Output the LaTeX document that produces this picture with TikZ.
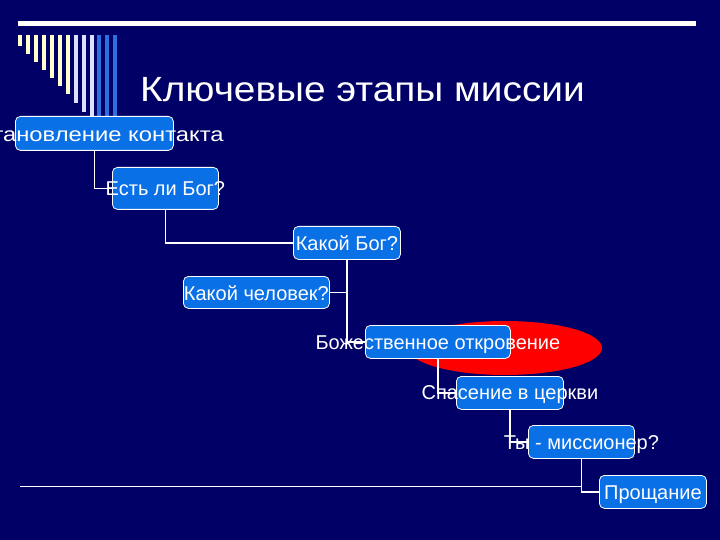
\documentclass[tikz,border=0pt]{standalone}
\usepackage{fontspec}
\setmainfont{Liberation Sans}
\definecolor{bgnavy}{HTML}{000066}
\definecolor{nodeblue}{HTML}{0A70E6}
\definecolor{barcream}{HTML}{FFFFCC}
\definecolor{barlight}{HTML}{DDE0FF}
\definecolor{barblue}{HTML}{2E6FE0}
\definecolor{ovalred}{HTML}{FF0000}
\tikzset{
  box/.style={draw=white, line width=0.8pt, fill=nodeblue, rounded corners=5pt, inner sep=0pt, anchor=north west},
  lbl/.style={text=white, font=\fontsize{20}{24}\selectfont, inner sep=0pt, anchor=base},
  conn/.style={draw=white, line width=1.6pt},
}
\begin{document}
\begin{tikzpicture}[x=1pt,y=-1pt]
\fill[bgnavy] (0,0) rectangle (720,540);
\useasboundingbox (0,0) rectangle (720,540);
% decorative bars
\foreach \x/\b/\c in {18/46/barcream,26/54/barcream,34/62/barcream,42/70/barcream,50/78/barcream,58/86/barcream,66/94/barcream,74/103/barlight,82/112/barlight,90/122/barlight,97/122/barblue,105/122/barblue,113/122/barblue}
  \fill[\c] (\x,35) rectangle ++(4,\b-35);
% top rule
\fill[white] (18,21) rectangle (696,26);
% title
\node[text=white, font=\fontsize{35}{40}\selectfont, inner sep=0pt, anchor=base] (title) at (362.5,102) {\scalebox{1.11}[1]{Ключевые этапы миссии}};
% red oval
\fill[ovalred] (505,348) ellipse [x radius=97, y radius=27];
% boxes
\node[box, minimum width=158pt, minimum height=34pt] (b1) at (15,116) {};
\node[box, minimum width=106pt, minimum height=42pt] (b2) at (112,167) {};
\node[box, minimum width=107pt, minimum height=33pt] (b3) at (293,226) {};
\node[box, minimum width=146pt, minimum height=32pt] (b4) at (183,276) {};
\node[box, minimum width=145pt, minimum height=33pt] (b5) at (365,325) {};
\node[box, minimum width=107pt, minimum height=33pt] (b6) at (456,376) {};
\node[box, minimum width=106pt, minimum height=33pt] (b7) at (528,425) {};
\node[box, minimum width=107pt, minimum height=33pt] (b8) at (599,475) {};
% connectors
\coordinate (ls) at (20,486);
\draw[white, line width=1pt] (ls) -- (ls -| b7.south);
\draw[conn] (b1.south) |- (b2.west);
\draw[conn] (b2.south) |- (b3.west);
\draw[conn] (b3.south) |- (b5.west);
\draw[conn] (b4.east) -- (b4.east -| b3.south);
\draw[conn] (b5.south) |- (b6.west);
\draw[conn] (b6.south) |- (b7.west);
\draw[conn] (b7.south) |- (b8.west);
% labels
\node[lbl] (t1) at ([xshift=1pt,yshift=-8pt]b1.center) {\scalebox{1.19}[1]{Установление контакта}};
\node[lbl] (t2) at ([yshift=-7pt]b2.center) {Есть ли Бог?};
\node[lbl] (t3) at ([yshift=-7.5pt]b3.center) {Какой Бог?};
\node[lbl] (t4) at ([yshift=-8pt]b4.center) {Какой человек?};
\node[lbl] (t5) at ([yshift=-7.5pt]b5.center) {Божественное откровение};
\node[lbl] (t6) at ([yshift=-7pt]b6.center) {Спасение в церкви};
\node[lbl] (t7) at ([yshift=-7.5pt]b7.center) {Ты - миссионер?};
\node[lbl] (t8) at ([yshift=-7.5pt]b8.center) {Прощание};
\end{tikzpicture}
\end{document}
